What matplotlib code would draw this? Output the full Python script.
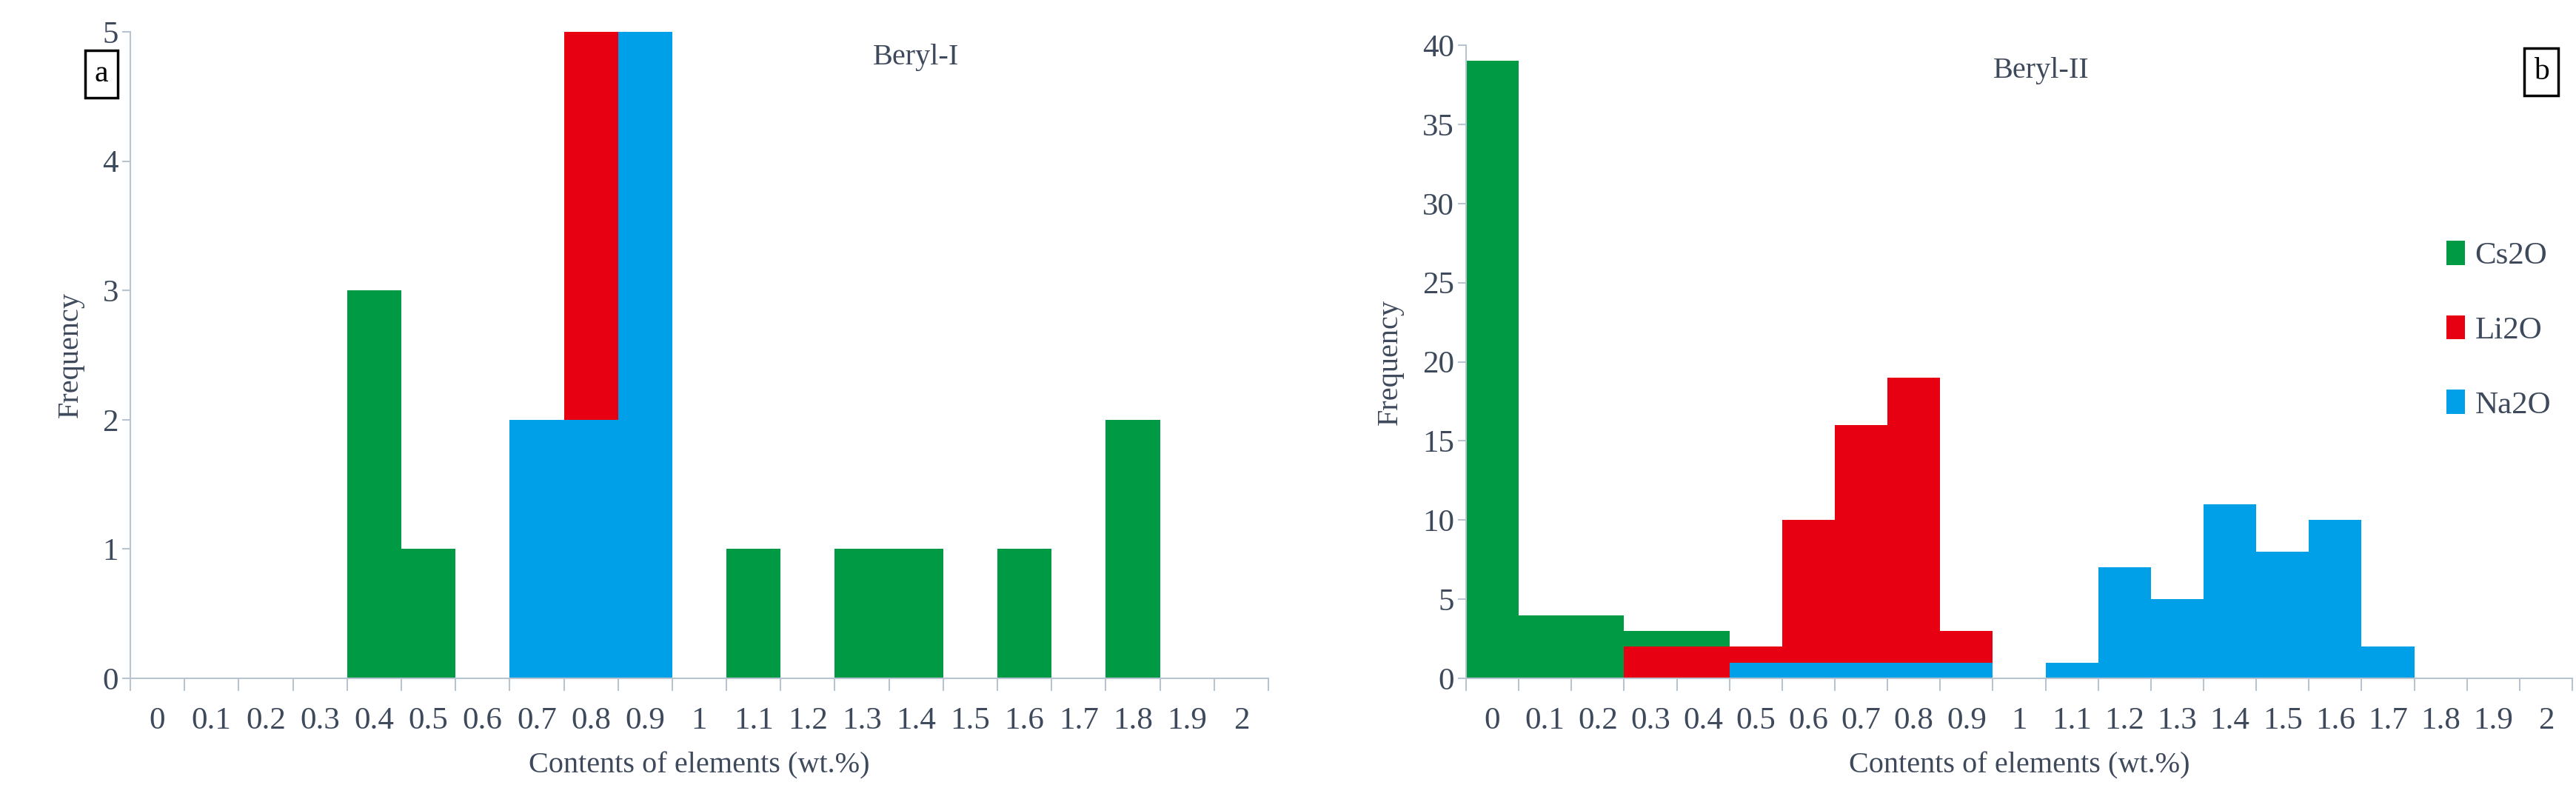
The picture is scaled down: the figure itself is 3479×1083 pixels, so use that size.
import numpy as np
import matplotlib.pyplot as plt

plt.rcParams["font.family"] = ["Liberation Serif", "DejaVu Serif"]

CATS = ["0", "0.1", "0.2", "0.3", "0.4", "0.5", "0.6", "0.7", "0.8", "0.9", "1",
        "1.1", "1.2", "1.3", "1.4", "1.5", "1.6", "1.7", "1.8", "1.9", "2"]

# Beryl-I counts per category
A_CS2O = [0, 0, 0, 0, 3, 1, 0, 0, 0, 0, 0, 1, 0, 1, 1, 0, 1, 0, 2, 0, 0]
A_LI2O = [0, 0, 0, 0, 0, 0, 0, 0, 5, 0, 0, 0, 0, 0, 0, 0, 0, 0, 0, 0, 0]
A_NA2O = [0, 0, 0, 0, 0, 0, 0, 2, 2, 5, 0, 0, 0, 0, 0, 0, 0, 0, 0, 0, 0]

# Beryl-II counts per category
B_CS2O = [39, 4, 4, 3, 3, 0, 0, 0, 0, 0, 0, 0, 0, 0, 0, 0, 0, 0, 0, 0, 0]
B_LI2O = [0, 0, 0, 2, 2, 2, 10, 16, 19, 3, 0, 0, 0, 0, 0, 0, 0, 0, 0, 0, 0]
B_NA2O = [0, 0, 0, 0, 0, 1, 1, 1, 1, 1, 0, 1, 7, 5, 11, 8, 10, 2, 0, 0, 0]

SERIES = ["Cs2O", "Li2O", "Na2O"]
COLORS = ["#009944", "#E60012", "#00A0E9"]
TXT = "#3E4A5C"
AX = "#B8C4D0"

fig = plt.figure(figsize=(34.8, 10.83), dpi=100)
ax_a = fig.add_axes([176 / 3480, 1 - 916 / 1083, (1713 - 176) / 3480, (916 - 43) / 1083])
ax_b = fig.add_axes([1980 / 3480, 1 - 916 / 1083, (3474 - 1980) / 3480, (916 - 61) / 1083])

x = np.arange(len(CATS))


def draw(ax, data, ymax, ystep, title, tx, ty):
    for vals, name, c in zip(data, SERIES, COLORS):
        ax.bar(x, vals, width=1.0, color=c, label=name, linewidth=0)
    ax.set_xlim(-0.5, len(CATS) - 0.5)
    ax.set_ylim(0, ymax)
    ax.set_yticks(np.arange(0, ymax + 1, ystep))
    ax.set_xticks(x)
    ax.set_xticklabels(CATS)
    ax.set_xticks(np.arange(-0.5, len(CATS)), minor=True)
    ax.tick_params(axis="x", which="major", length=0, pad=28, labelsize=31, labelcolor=TXT)
    ax.tick_params(axis="x", which="minor", length=12, color=AX, width=1.5)
    ax.tick_params(axis="y", length=8, color=AX, width=1.5, labelsize=31, labelcolor=TXT)
    for s in ["top", "right"]:
        ax.spines[s].set_visible(False)
    for s in ["left", "bottom"]:
        ax.spines[s].set_color(AX)
        ax.spines[s].set_linewidth(1.5)
    ax.set_xlabel("Contents of elements (wt.%)", fontsize=29, color=TXT, labelpad=16)
    ax.set_ylabel("Frequency", fontsize=29, color=TXT, labelpad=18)
    ax.text(tx, ty, title, transform=ax.transAxes, fontsize=29, color=TXT,
            ha="center", va="center")


draw(ax_a, [A_CS2O, A_LI2O, A_NA2O], 5, 1, "Beryl-I", 0.69, 0.96)
draw(ax_b, [B_CS2O, B_LI2O, B_NA2O], 40, 5, "Beryl-II", 0.52, 0.96)

fig.text(137 / 3480, 1 - 100 / 1083, "a", fontsize=30, ha="center", va="center",
         bbox=dict(boxstyle="square,pad=0.3", fc="white", ec="black", lw=2.5))
fig.text(3432 / 3480, 1 - 97 / 1083, "b", fontsize=30, ha="center", va="center",
         bbox=dict(boxstyle="square,pad=0.3", fc="white", ec="black", lw=2.5))

ax_b.legend(loc="center left", bbox_to_anchor=(0.86, 0.55), frameon=False,
            fontsize=31, labelcolor=TXT, handlelength=0.6, handleheight=0.8,
            labelspacing=1.4, handletextpad=0.3)

fig.savefig("out.png", dpi=100)
